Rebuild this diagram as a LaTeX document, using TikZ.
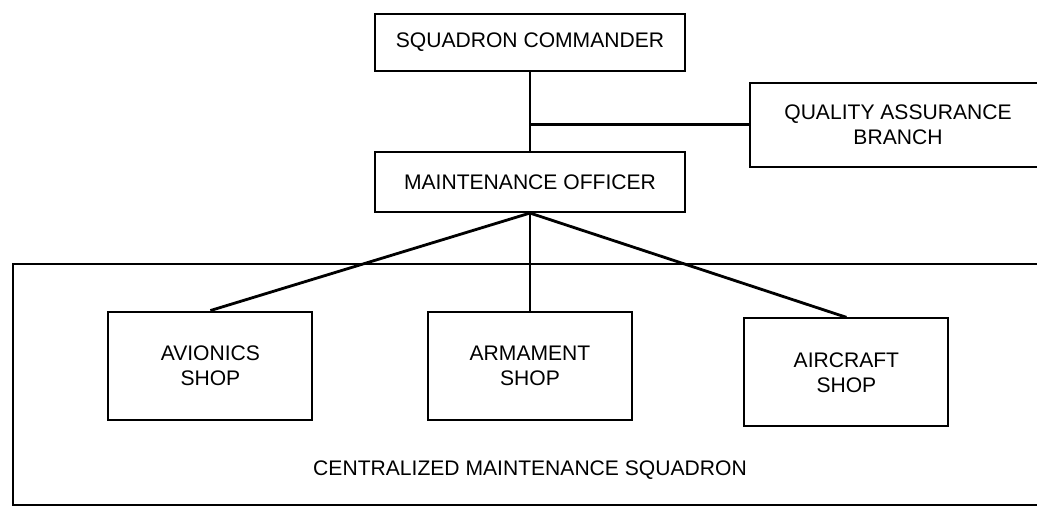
\documentclass[tikz,border=0pt]{standalone}
\usepackage{fontspec}
\setmainfont{Liberation Sans}
\tikzset{
  unit/.style={draw, line width=1.5pt, align=center, inner sep=2pt},
  shop/.style={unit, minimum width=5.1cm, minimum height=2.7cm},
  link/.style={line width=2pt}
}
\begin{document}
\begin{tikzpicture}[font=\fontsize{15}{18}\selectfont]
            \useasboundingbox (0,0) rectangle (25.925,12.7);
            \clip (0,0) rectangle (25.925,12.7);

            \node[unit, minimum width=7.75cm, minimum height=1.425cm] (cmd) at (13.25,11.64) {SQUADRON COMMANDER};
            \node[unit, minimum width=7.75cm, minimum height=1.5cm] (mo) at (13.25,8.15) {MAINTENANCE OFFICER};
            \node[unit, minimum width=7.4cm, minimum height=2.1cm] (qa) at (22.45,9.58) {QUALITY ASSURANCE\\BRANCH};

            \draw[line width=1.5pt] (0.33,6.1) rectangle (27,0.08);
            \node (cms) at (13.25,0.95) {CENTRALIZED MAINTENANCE SQUADRON};

            \node[shop] (avionics) at (5.26,3.56) {AVIONICS\\SHOP};
            \node[shop] (armament) at (13.25,3.55) {ARMAMENT\\SHOP};
            \node[shop] (aircraft) at (21.16,3.39) {AIRCRAFT\\SHOP};

            \draw[link] (cmd) -- (mo);
            \draw[link] (cmd.south |- qa.west) -- (qa.west);
            \draw[link] (mo.south) -- (avionics.north);
            \draw[link] (mo.south) -- (armament.north);
            \draw[link] (mo.south) -- (aircraft.north);
        \end{tikzpicture}
\end{document}
